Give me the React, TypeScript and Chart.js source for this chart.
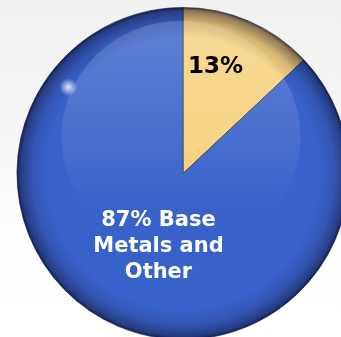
import React, { useEffect, useRef } from "react";
import { Chart, registerables } from "chart.js";

Chart.register(...registerables);

const categories = ["Other Metals", "Base Metals and Other"];
const shares = [13, 87];
const sliceColors = ["#f5d07a", "#3762c9"];
const sliceLabels = [["13%"], ["87% Base", "Metals and", "Other"]];
const labelColors = ["#000000", "#ffffff"];

const glossPlugin = {
  id: "gloss",
  afterDatasetsDraw(chart: any) {
    const ctx = chart.ctx as CanvasRenderingContext2D;
    const meta = chart.getDatasetMeta(0);
    const arc = meta.data[0] as any;
    if (!arc) return;
    const { x, y, outerRadius: r } = arc.getProps(["x", "y", "outerRadius"], true);
    ctx.save();
    ctx.beginPath();
    ctx.arc(x, y, r, 0, Math.PI * 2);
    ctx.clip();

    // upper glossy highlight
    const hg = ctx.createLinearGradient(0, y - r * 0.9, 0, y + r * 0.2);
    hg.addColorStop(0, "rgba(255,255,255,0.2)");
    hg.addColorStop(0.6, "rgba(255,255,255,0.09)");
    hg.addColorStop(1, "rgba(255,255,255,0)");
    ctx.fillStyle = hg;
    ctx.beginPath();
    ctx.ellipse(x - 2, y - r * 0.22, r * 0.72, r * 0.7, 0, 0, Math.PI * 2);
    ctx.fill();

    // darker rim
    const rg = ctx.createRadialGradient(x, y, r * 0.82, x, y, r);
    rg.addColorStop(0, "rgba(20,15,40,0)");
    rg.addColorStop(0.5, "rgba(20,15,50,0.14)");
    rg.addColorStop(0.88, "rgba(20,15,45,0.45)");
    rg.addColorStop(1, "rgba(0,0,30,0.7)");
    ctx.fillStyle = rg;
    ctx.beginPath();
    ctx.arc(x, y, r, 0, Math.PI * 2);
    ctx.fill();

    // specular spot
    const sx = x - r * 0.69;
    const sy = y - r * 0.52;
    const sg = ctx.createRadialGradient(sx, sy, 0, sx, sy, 9);
    sg.addColorStop(0, "rgba(255,255,255,0.85)");
    sg.addColorStop(1, "rgba(255,255,255,0)");
    ctx.fillStyle = sg;
    ctx.beginPath();
    ctx.arc(sx, sy, 9, 0, Math.PI * 2);
    ctx.fill();
    ctx.restore();
  },
  afterDraw(chart: any) {
    const ctx = chart.ctx as CanvasRenderingContext2D;
    const meta = chart.getDatasetMeta(0);
    const arc = meta.data[0] as any;
    if (!arc) return;
    const { x, y } = arc.getProps(["x", "y"], true);
    const offsets = [
      { dx: 32.5, dy: -106.5, size: 23, lh: 26 },
      { dx: -24.5, dy: 73, size: 21, lh: 26 },
    ];
    ctx.save();
    ctx.textAlign = "center";
    ctx.textBaseline = "middle";
    sliceLabels.forEach((lines, i) => {
      const o = offsets[i];
      ctx.font = `bold ${o.size}px "DejaVu Sans", Verdana, sans-serif`;
      ctx.fillStyle = labelColors[i];
      const start = y + o.dy - ((lines.length - 1) * o.lh) / 2;
      lines.forEach((line, j) => {
        ctx.fillText(line, x + o.dx, start + j * o.lh);
      });
    });
    ctx.restore();
  },
};

export default function App() {
  const ref = useRef<HTMLCanvasElement | null>(null);
  useEffect(() => {
    if (!ref.current) return;
    const chart = new Chart(ref.current, {
      type: "pie",
      data: {
        labels: categories,
        datasets: [
          {
            data: shares,
            backgroundColor: sliceColors,
            borderColor: "rgba(55,60,80,0.85)",
            borderWidth: 1,
            hoverOffset: 0,
          },
        ],
      },
      options: {
        responsive: false,
        animation: false,
        layout: { padding: { top: 7, bottom: 0, left: 16, right: 0 } },
        plugins: {
          legend: { display: false },
          tooltip: { enabled: false },
        },
      },
      plugins: [glossPlugin],
    });
    return () => chart.destroy();
  }, []);
  return (
    <div
      style={{
        position: "fixed",
        left: 0,
        top: 0,
        width: 341,
        height: 337,
        overflow: "hidden",
        background: "linear-gradient(#f1f1f1 0%, #f6f6f6 40%, #fdfdfd 70%, #ffffff 100%)",
      }}
    >
      <canvas ref={ref} width={350} height={340} style={{ display: "block" }} />
    </div>
  );
}
